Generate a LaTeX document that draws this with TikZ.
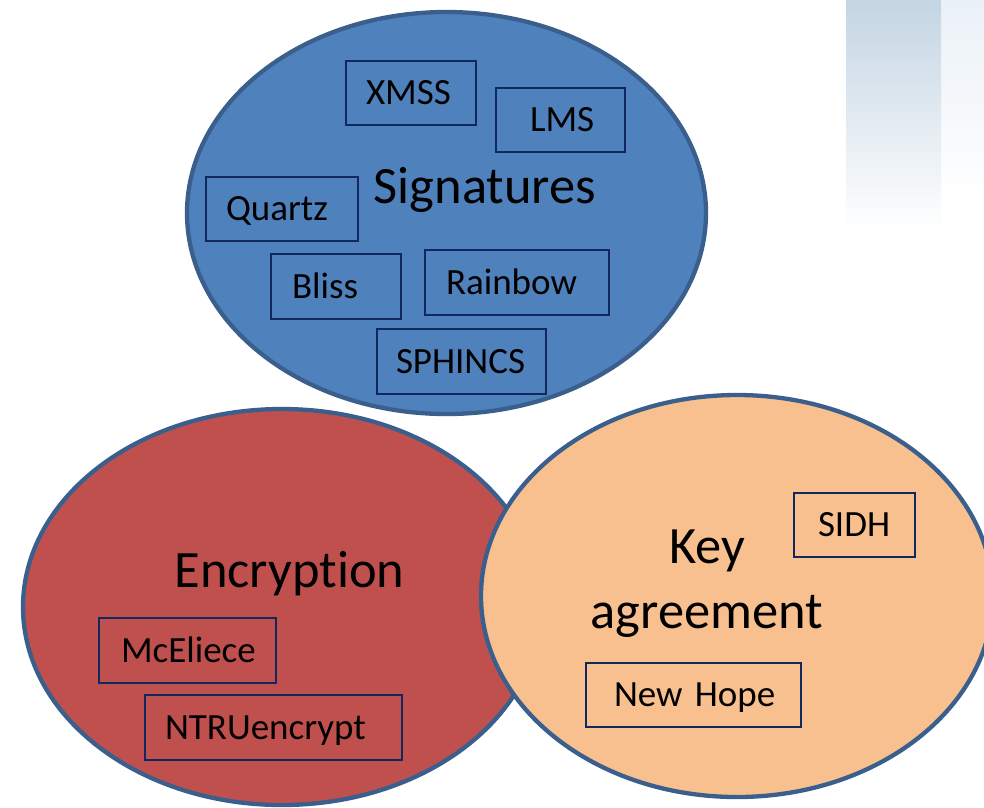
\documentclass[tikz,border=0pt]{standalone}
\usepackage{fontspec}
\setmainfont{Carlito}[Ligatures=NoCommon]
\usetikzlibrary{shapes.geometric}

\definecolor{sigfill}{HTML}{4F81BD}
\definecolor{encfill}{HTML}{C0504D}
\definecolor{keyfill}{HTML}{F9C08F}
\definecolor{rimline}{HTML}{3A5F8D}
\definecolor{boxline}{HTML}{10285E}
\definecolor{stripTop}{HTML}{C4D5E3}
\definecolor{stripMid}{HTML}{DCE7EF}
\definecolor{hazeTop}{HTML}{EAF1F7}

\tikzset{
  family/.style={ellipse, draw=rimline, line width=4.3pt, inner sep=0pt},
  biglabel/.style={font=\fontsize{52.5}{65}\selectfont, inner sep=0pt},
  itembox/.style={draw=boxline, line width=1.8pt, align=left,
    font=\fontsize{37}{40}\selectfont, minimum height=64.5pt,
    inner ysep=0pt, text height=23.4pt, text depth=0pt},
}

\begin{document}
\begin{tikzpicture}[x=1pt, y=-1pt]
  \useasboundingbox[fill=white] (0,0) rectangle (984,807);

  % faded window strip in the upper right corner
  \shade[top color=hazeTop, bottom color=white] (941,0) rectangle (984,200);
  \shade[top color=stripTop, middle color=stripMid, bottom color=white]
    (846,0) rectangle (941,232);

  % the three families of schemes
  \node[family, fill=sigfill, minimum width=519pt, minimum height=402pt]
    (sig) at (446.5,213) {};
  \node[family, fill=encfill, minimum width=518pt, minimum height=396pt]
    (enc) at (282,607) {};
  \node[family, fill=keyfill, minimum width=512pt, minimum height=402pt]
    (key) at (737,596) {};

  % family titles
  \node[biglabel, anchor=base] (sigtitle) at (485,203) {Signatures};
  \node[biglabel, anchor=base] (enctitle) at (289.5,587) {Encryption};
  \node[biglabel, anchor=base, text width=320pt, align=center]
    (keytitle) at (707,563) {Key\\agreement};

  % signature schemes
  \node[itembox, inner xsep=20pt, text width=90pt]  (xmss)    at (411,93)      {XMSS};
  \node[itembox, inner xsep=34pt, text width=61pt]  (lms)     at (560.5,120)   {LMS};
  \node[itembox, inner xsep=20pt, text width=112pt] (quartz)  at (282,209)     {Quartz};
  \node[itembox, inner xsep=21pt, text width=88pt]  (bliss)   at (336,286.5)   {Bliss};
  \node[itembox, inner xsep=21pt, text width=142pt] (rainbow) at (517,282.5)   {Rainbow};
  \node[itembox, inner xsep=19pt, text width=131pt] (sphincs) at (461.5,361.5) {SPHINCS};

  % encryption schemes
  \node[itembox, inner xsep=22pt, text width=133pt] (mceliece) at (187.5,650.5) {McEliece};
  \node[itembox, inner xsep=20pt, text width=217pt] (ntru)     at (273.5,727.5) {NTRUencrypt};

  % key agreement schemes
  \node[itembox, inner xsep=24pt, text width=73pt]  (sidh)    at (854.5,525) {SIDH};
  \node[itembox, inner xsep=28pt, text width=159pt] (newhope) at (693.5,695) {\mbox{New Hope}};
\end{tikzpicture}
\end{document}
